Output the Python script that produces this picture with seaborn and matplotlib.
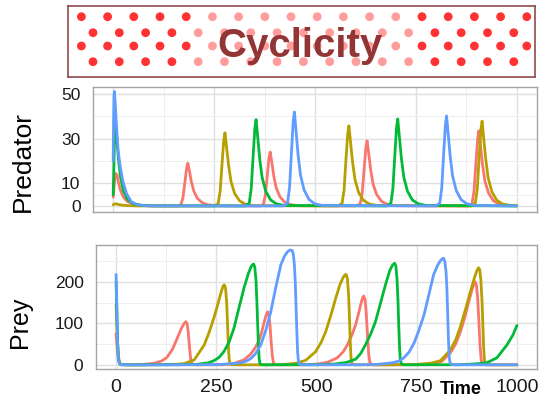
import matplotlib
matplotlib.use('Agg')
import matplotlib.pyplot as plt
import numpy as np
import pandas as pd
import seaborn as sns

runs = ['run 1', 'run 2', 'run 3', 'run 4']
run_colors = ['#F8766D', '#B79F00', '#00BA38', '#619CFF']

# ---- predator ----
pred_t_1 = [0, 3, 6, 9, 13, 18, 25, 35, 50, 70, 90,
            160, 168, 173, 178, 182, 185, 189, 194, 200, 209, 221, 235, 255,
            365, 372, 377, 382, 386, 389, 393, 398, 404, 413, 425, 439, 460,
            600, 612, 617, 622, 626, 629, 633, 638, 644, 653, 665, 679, 700,
            880, 889, 894, 899, 903, 906, 910, 915, 921, 930, 942, 956, 977, 1000]
pred_v_1 = [4, 10, 14.5, 14, 10.5, 7, 4, 2, 0.7, 0.2, 0.05,
            0, 0.6, 3.8, 11, 17, 19, 15.5, 10.5, 6.5, 3.3, 1.4, 0.5, 0.1,
            0, 0.7, 4.8, 14, 21.5, 24, 19.5, 13.2, 8, 4.1, 1.7, 0.6, 0.1,
            0, 0.9, 5.8, 17, 26, 29, 23.5, 16, 9.6, 5, 2, 0.7, 0.1,
            0, 1, 6.7, 20, 30, 33.5, 27, 18.5, 11, 5.7, 2.3, 0.8, 0.2, 0.05]

pred_t_2 = [0, 5, 10, 20, 35, 55, 80,
            250, 260, 265, 270, 274, 277, 281, 286, 292, 301, 313, 327, 347,
            557, 567, 572, 577, 581, 584, 588, 593, 599, 608, 620, 634, 654,
            887, 897, 902, 907, 911, 914, 918, 923, 929, 938, 950, 964, 984, 1000]
pred_v_2 = [0.5, 1, 0.8, 0.4, 0.15, 0.05, 0.02,
            0, 1, 6.5, 19.5, 29.5, 32.6, 26, 18, 10.8, 5.5, 2.3, 0.8, 0.15,
            0, 1.1, 7, 21.5, 32, 35.7, 28.5, 19.6, 11.8, 6, 2.5, 0.9, 0.2,
            0, 1.1, 7.5, 22.7, 34, 37.8, 30, 20.8, 12.5, 6.4, 2.6, 0.9, 0.2, 0.05]

pred_t_3 = [0, 2, 4, 6, 9, 13, 18, 25, 35, 50, 70, 95,
            327, 337, 342, 347, 351, 354, 358, 363, 369, 378, 390, 404, 424,
            678, 688, 693, 698, 702, 705, 709, 714, 720, 729, 741, 755, 775, 1000]
pred_v_3 = [5, 20, 35, 37, 30, 21, 13, 7, 3, 1, 0.25, 0.05,
            0, 1.2, 7.7, 23, 34.6, 38.5, 30.8, 21, 12.7, 6.5, 2.7, 1, 0.2,
            0, 1.2, 7.8, 23.3, 35, 38.8, 31, 21.3, 12.8, 6.6, 2.7, 1, 0.2, 0]

pred_t_4 = [0, 1, 2, 3, 5, 8, 12, 17, 24, 33, 45, 60, 80, 100,
            422, 432, 437, 442, 446, 449, 453, 458, 464, 473, 485, 499, 519,
            799, 809, 814, 819, 823, 826, 830, 835, 841, 850, 862, 876, 896, 1000]
pred_v_4 = [20, 38, 49, 51, 46, 36, 25, 18, 11, 5.5, 1.8, 0.6, 0.15, 0.03,
            0, 1.3, 8.4, 25, 37.7, 41.9, 33.5, 23, 13.8, 7.1, 2.9, 1, 0.2,
            0, 1.2, 8, 24, 36, 40.1, 32, 22, 13.2, 6.8, 2.8, 1, 0.2, 0]

# ---- prey ----
prey_t_1 = [0, 3, 6, 9, 13, 20, 40, 60, 80, 100, 115, 127, 141, 153, 163, 170,
            174, 177, 180, 183, 186, 189, 193, 200,
            260, 290, 319, 335, 345, 355, 363, 370, 375, 378, 381, 384, 387, 390, 393, 397, 405,
            480, 505, 527, 552, 567, 577, 590, 598, 606, 612, 616, 618, 621, 624, 627, 630, 633, 637, 645,
            760, 790, 812, 834, 847, 859, 870, 880, 888, 893, 896, 899, 902, 905, 908, 911, 914, 920, 1000]
prey_v_1 = [75, 40, 12, 3, 0.5, 0.1, 0.1, 0.5, 2, 5, 10, 18, 38, 65, 88, 100,
            104, 100, 80, 45, 15, 3, 0.5, 0.1,
            0.2, 2, 12, 25, 38, 55, 78, 105, 122, 128, 122, 95, 55, 20, 4, 0.5, 0.1,
            0.5, 2.5, 6, 17, 32, 48, 76, 98, 128, 152, 164, 166, 158, 125, 75, 28, 6, 0.8, 0.1,
            0.5, 2.5, 8, 29, 50, 80, 115, 153, 182, 197, 200, 192, 160, 105, 45, 10, 1.5, 0.2, 0.1]

prey_t_2 = [0, 3, 6, 9, 13, 20, 60, 120, 150, 170, 195, 220, 232, 245, 255, 262, 267,
            270, 273, 276, 278, 280, 282, 284, 288, 300,
            380, 420, 450, 473, 498, 512, 523, 536, 548, 558, 566, 571, 574, 577, 580, 582, 584, 586, 588, 592, 600,
            700, 750, 785, 809, 834, 847, 859, 872, 884, 894, 900, 904, 907, 910, 913, 915, 917, 919, 922, 928, 1000]
prey_v_2 = [145, 70, 20, 5, 1, 0.2, 0.05, 0.5, 1.5, 3, 12, 48, 78, 116, 150, 175, 190,
            193, 186, 150, 100, 50, 15, 3, 0.5, 0.1,
            0.1, 1, 4, 11, 32, 55, 80, 120, 161, 192, 210, 217, 218, 208, 170, 120, 60, 18, 4, 0.5, 0.1,
            0.1, 1, 4, 10, 36, 60, 92, 135, 177, 210, 227, 234, 230, 205, 150, 95, 40, 10, 1.5, 0.2, 0.1]

prey_t_3 = [0, 2, 4, 6, 9, 14, 40, 150, 200, 230, 244, 257, 269, 282, 294, 306, 319, 330, 337, 341,
            343, 346, 349, 351, 353, 355, 357, 359, 363, 370,
            500, 545, 575, 598, 610, 622, 635, 647, 660, 672, 683, 690, 695, 698, 701, 703, 705, 707, 709, 712, 717, 725,
            850, 880, 905, 925, 950, 975, 990, 1000]
prey_v_3 = [200, 130, 50, 12, 2, 0.3, 0.05, 0.3, 1, 5, 10, 18, 32, 55, 88, 135, 185, 220, 237, 242,
            243, 236, 205, 160, 105, 50, 15, 3, 0.4, 0.1,
            0.3, 2, 6, 14, 27, 48, 74, 104, 150, 193, 228, 241, 245, 238, 205, 160, 100, 45, 12, 2, 0.3, 0.1,
            0.3, 1.5, 3, 5, 17, 48, 72, 95]

prey_t_4 = [0, 1, 2, 3, 4, 6, 9, 14, 40, 200, 260, 290, 300, 311, 325, 336, 348, 361, 374, 386, 398,
            411, 420, 428, 434, 439, 442, 445, 447, 449, 451, 453, 455, 458, 463, 480,
            600, 650, 690, 705, 718, 731, 743, 755, 768, 780, 792, 802, 809, 814, 817, 820, 823, 825, 827,
            829, 831, 833, 837, 845, 1000]
prey_v_4 = [218, 190, 140, 85, 45, 12, 2, 0.3, 0.05, 0.2, 1, 3, 3.5, 5, 9, 15, 27, 48, 85, 128, 185,
            241, 262, 273, 277, 276, 268, 240, 200, 140, 80, 30, 8, 1.5, 0.2, 0.1,
            0.2, 1, 5, 9, 17, 31, 52, 82, 120, 168, 217, 240, 251, 256, 257, 250, 225, 190, 130,
            65, 20, 5, 0.8, 0.1, 0.3]


def long_frame(times, values):
    parts = []
    for run, t, v in zip(runs, times, values):
        parts.append(pd.DataFrame({'Time': t, 'Value': v, 'Run': run}))
    return pd.concat(parts, ignore_index=True)


pred_df = long_frame([pred_t_1, pred_t_2, pred_t_3, pred_t_4],
                     [pred_v_1, pred_v_2, pred_v_3, pred_v_4])
prey_df = long_frame([prey_t_1, prey_t_2, prey_t_3, prey_t_4],
                     [prey_v_1, prey_v_2, prey_v_3, prey_v_4])

sns.set_theme(style='white')
plt.rcParams['font.family'] = ['Liberation Sans', 'DejaVu Sans']

W, H = 539, 400
fig = plt.figure(figsize=(W / 100, H / 100), dpi=100)


def style_panel(ax, yticks, yminor, ylim):
    ax.set_xlim(-50, 1050)
    ax.set_ylim(*ylim)
    ax.set_xticks([0, 250, 500, 750, 1000])
    ax.set_xticks([125, 375, 625, 875], minor=True)
    ax.set_yticks(yticks)
    ax.set_yticks(yminor, minor=True)
    ax.grid(which='major', color='#E0E0E0', lw=1.0)
    ax.grid(which='minor', color='#EEEEEE', lw=0.7)
    ax.set_axisbelow(True)
    ax.tick_params(which='minor', length=0)
    ax.tick_params(axis='y', which='major', direction='out', length=7, width=1.5,
                   color='#1a1a1a', labelsize=12.5, labelcolor='#1a1a1a', pad=2)
    ax.tick_params(axis='x', which='major', direction='out', length=6, width=1.5,
                   color='#1a1a1a', labelsize=14, labelcolor='#1a1a1a', pad=1)
    for s in ax.spines.values():
        s.set_color('#A5A5A5')
        s.set_linewidth(1.0)
    ax.set_xlabel('')
    ax.set_ylabel('')


# top panel: predator
ax1 = fig.add_axes([93 / W, 1 - 212 / H, 444 / W, 125 / H])
sns.lineplot(data=pred_df, x='Time', y='Value', hue='Run', hue_order=runs,
             palette=run_colors, estimator=None, sort=False, legend=False,
             linewidth=2.0, ax=ax1)
style_panel(ax1, [0, 10, 30, 50], [5, 20, 40], (-2.7, 53))
ax1.set_xticklabels([])

# bottom panel: prey
ax2 = fig.add_axes([96 / W, 1 - 369 / H, 441 / W, 124 / H])
sns.lineplot(data=prey_df, x='Time', y='Value', hue='Run', hue_order=runs,
             palette=run_colors, estimator=None, sort=False, legend=False,
             linewidth=2.0, ax=ax2)
style_panel(ax2, [0, 100, 200], [50, 150, 250], (-10, 289))

fig.text(23 / W, 1 - 162 / H, 'Predator', rotation=90, fontsize=19,
         ha='center', va='center', color='black')
fig.text(20 / W, 1 - 322 / H, 'Prey', rotation=90, fontsize=18,
         ha='center', va='center', color='black')
fig.text(461 / W, 1 - 390 / H, 'Time', fontsize=13, fontweight='bold',
         ha='center', va='center', color='black')

# title banner with dotted background
ban = fig.add_axes([68 / W, 1 - 77 / H, 467 / W, 71 / H])
ban.set_xlim(0, 467)
ban.set_ylim(71, 0)
ban.set_xticks([])
ban.set_yticks([])
ban.grid(False)
ban.set_facecolor('white')
for s in ban.spines.values():
    s.set_color('#8E4A4A')
    s.set_linewidth(1.2)

row_y = [10.7, 26.7, 40, 55.7]
for i, yy in enumerate(row_y):
    if i % 2 == 0:
        xs = 13.4 + 26.2 * np.arange(18)
    else:
        xs = 25.0 + 26.3 * np.arange(17)
    cols = ['#FF3333' if (x < 122 or x > 345) else '#FF9C9C' for x in xs]
    ban.scatter(xs, np.full(len(xs), yy), s=40, c=cols, linewidths=0, zorder=1)

ban.text(231.7, 51, 'Cyclicity', fontsize=29, fontweight='bold', color='#933535',
         ha='center', va='baseline', zorder=3)

fig.savefig('out.png', dpi=100)
